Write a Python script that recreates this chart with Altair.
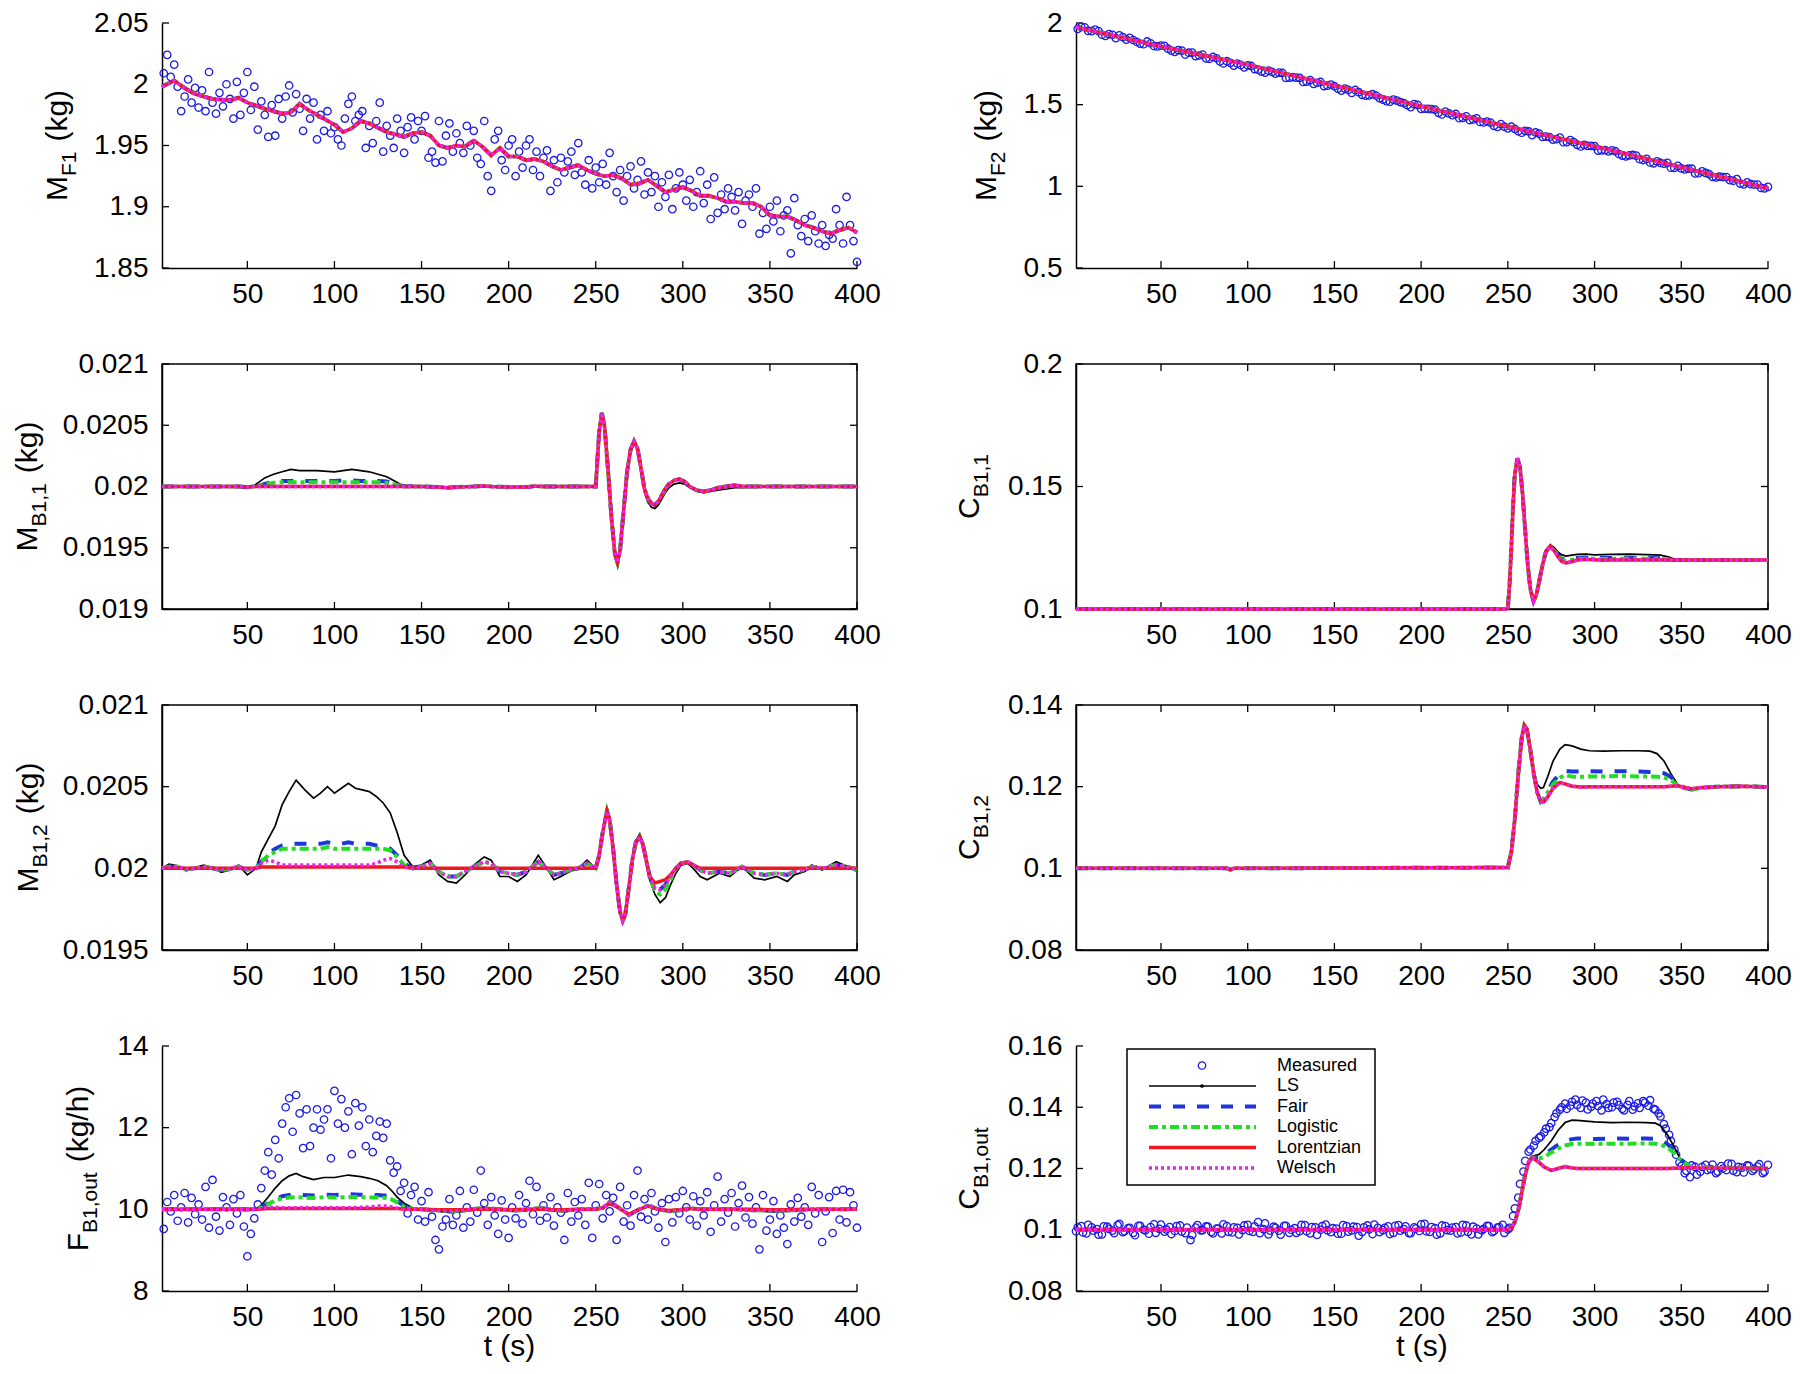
import altair as alt
import pandas as pd

FONT = "Liberation Sans"
TICK_FS = 28
TITLE_FS = 30
SUB_FS = 21
W_LEFT, W_RIGHT, H = 695, 692, 245
ROW_GAP, COL_GAP = 96, 219

X_DOMAIN = [1, 400]
X_TICKS = [50, 100, 150, 200, 250, 300, 350, 400]
SERIES = ["LS", "Fair", "Logistic", "Lorentzian", "Welsch"]
LEGEND_NAMES = ["Measured", "LS", "Fair", "Logistic", "Lorentzian", "Welsch"]
MEAS_COLOR = "#1c1ce6"
STYLE = {
    "LS": dict(color="#000000", strokeWidth=1.7),
    "Fair": dict(color="#1f35dc", strokeWidth=4, strokeDash=[12, 12]),
    "Logistic": dict(color="#22dd22", strokeWidth=4, strokeDash=[9, 4, 4, 4]),
    "Lorentzian": dict(color="#ec1820", strokeWidth=3.5),
    "Welsch": dict(color="#f020f0", strokeWidth=3.5, strokeDash=[3, 3]),
}

# ---------------- Panel 1: M_F1 ----------------
MF1_T_MEAS = list(range(2, 401, 2))
MF1_MEAS = [
    2.009, 2.024, 2.006, 2.016, 1.998, 1.978, 1.990, 2.004, 1.985, 1.997,
    1.981, 1.995, 1.978, 2.010, 1.985, 1.976, 1.993, 1.982, 2.000, 1.988,
    1.972, 2.002, 1.975, 1.993, 2.010, 1.979, 1.998, 1.963, 1.986, 1.975,
    1.957, 1.983, 1.958, 1.988, 1.972, 1.990, 1.999, 1.977, 1.992, 1.980,
    1.962, 1.988, 1.972, 1.985, 1.955, 1.975, 1.962, 1.978, 1.960, 1.965,
    1.955, 1.950, 1.972, 1.984, 1.990, 1.970, 1.975, 1.978, 1.948, 1.966,
    1.952, 1.970, 1.985, 1.945, 1.966, 1.958, 1.948, 1.972, 1.962, 1.944,
    1.965, 1.973, 1.955, 1.970, 1.962, 1.974, 1.940, 1.945, 1.936, 1.970,
    1.937, 1.958, 1.968, 1.945, 1.960, 1.952, 1.944, 1.966, 1.950, 1.962,
    1.940, 1.935, 1.970, 1.925, 1.913, 1.955, 1.962, 1.938, 1.930, 1.950,
    1.955, 1.925, 1.945, 1.932, 1.950, 1.955, 1.930, 1.945, 1.925, 1.940,
    1.946, 1.913, 1.938, 1.920, 1.940, 1.928, 1.937, 1.945, 1.926, 1.952,
    1.928, 1.918, 1.938, 1.915, 1.932, 1.920, 1.935, 1.918, 1.944, 1.925,
    1.912, 1.930, 1.905, 1.925, 1.933, 1.915, 1.922, 1.937, 1.910, 1.928,
    1.912, 1.925, 1.900, 1.920, 1.908, 1.926, 1.898, 1.915, 1.928, 1.918,
    1.905, 1.922, 1.900, 1.912, 1.929, 1.903, 1.918, 1.890, 1.924, 1.895,
    1.910, 1.898, 1.915, 1.908, 1.897, 1.912, 1.886, 1.905, 1.910, 1.900,
    1.915, 1.878, 1.895, 1.882, 1.900, 1.888, 1.905, 1.880, 1.893, 1.897,
    1.862, 1.907, 1.885, 1.876, 1.890, 1.872, 1.893, 1.880, 1.870, 1.885,
    1.868, 1.877, 1.874, 1.898, 1.885, 1.870, 1.908, 1.885, 1.872, 1.855,
]
MF1_T = [1, 8, 15, 20, 30, 40, 45, 50, 60, 70, 75, 80, 85, 95, 100, 105, 110, 115, 120, 130,
         140, 145, 150, 155, 160, 165, 170, 175, 180, 185, 190, 195, 200, 205, 210, 215, 220, 225, 230, 235,
         240, 245, 250, 255, 260, 265, 270, 275, 280, 285, 290, 295, 300, 305, 310, 315, 320, 325, 330, 335,
         340, 345, 350, 355, 360, 365, 370, 375, 380, 385, 390, 395, 400]
MF1_EST = [1.998, 2.003, 1.996, 1.992, 1.988, 1.987, 1.989, 1.985, 1.980, 1.976,
           1.977, 1.984, 1.979, 1.971, 1.967, 1.961, 1.964, 1.970, 1.968, 1.961,
           1.957, 1.960, 1.961, 1.958, 1.950, 1.948, 1.950, 1.949, 1.954, 1.949,
           1.942, 1.948, 1.941, 1.941, 1.938, 1.939, 1.937, 1.933, 1.930, 1.932,
           1.934, 1.930, 1.927, 1.925, 1.926, 1.923, 1.918, 1.919, 1.922, 1.917,
           1.912, 1.914, 1.916, 1.913, 1.909, 1.909, 1.907, 1.904, 1.904, 1.903,
           1.903, 1.900, 1.893, 1.892, 1.892, 1.889, 1.885, 1.883, 1.880, 1.878,
           1.881, 1.883, 1.879]

# ---------------- Panel 2: M_F2 ----------------
MF2_T_MEAS_A = list(range(4, 401, 4))
MF2_MEAS_A = [
    1.976, 1.952, 1.960, 1.928, 1.932, 1.907, 1.914, 1.909, 1.885, 1.870,
    1.876, 1.857, 1.860, 1.831, 1.834, 1.807, 1.819, 1.801, 1.783, 1.792,
    1.765, 1.766, 1.739, 1.743, 1.741, 1.718, 1.702, 1.709, 1.690, 1.694,
    1.665, 1.665, 1.639, 1.650, 1.634, 1.614, 1.623, 1.598, 1.598, 1.572,
    1.577, 1.555, 1.564, 1.540, 1.522, 1.531, 1.516, 1.497, 1.503, 1.474,
    1.474, 1.470, 1.440, 1.447, 1.443, 1.419, 1.406, 1.416, 1.391, 1.390,
    1.364, 1.366, 1.365, 1.337, 1.340, 1.313, 1.323, 1.304, 1.286, 1.298,
    1.271, 1.271, 1.244, 1.248, 1.246, 1.220, 1.214, 1.215, 1.188, 1.190,
    1.188, 1.161, 1.146, 1.153, 1.138, 1.114, 1.125, 1.104, 1.108, 1.080,
    1.082, 1.058, 1.059, 1.057, 1.034, 1.017, 1.024, 1.011, 0.990, 0.997,
]
MF2_T_MEAS_B = list(range(2, 401, 4))
MF2_MEAS_B = [
    1.964, 1.974, 1.950, 1.950, 1.921, 1.928, 1.924, 1.898, 1.896, 1.874,
    1.887, 1.859, 1.862, 1.843, 1.823, 1.831, 1.818, 1.797, 1.807, 1.781,
    1.784, 1.752, 1.756, 1.752, 1.728, 1.737, 1.714, 1.696, 1.701, 1.696,
    1.664, 1.669, 1.664, 1.641, 1.627, 1.639, 1.616, 1.613, 1.586, 1.591,
    1.590, 1.560, 1.557, 1.556, 1.531, 1.518, 1.525, 1.510, 1.485, 1.499,
    1.475, 1.473, 1.450, 1.458, 1.436, 1.417, 1.428, 1.410, 1.394, 1.397,
    1.370, 1.381, 1.355, 1.352, 1.328, 1.336, 1.330, 1.303, 1.302, 1.289,
    1.270, 1.283, 1.254, 1.254, 1.248, 1.219, 1.222, 1.220, 1.198, 1.183,
    1.192, 1.166, 1.168, 1.141, 1.143, 1.144, 1.113, 1.110, 1.108, 1.079,
    1.092, 1.075, 1.055, 1.057, 1.038, 1.044, 1.012, 1.013, 1.011, 0.987,
]
MF2_T = [1, 50, 100, 150, 200, 250, 300, 350, 400]
MF2_EST = [1.975, 1.856, 1.745, 1.617, 1.490, 1.366, 1.245, 1.117, 0.988]

# ---------------- Panel 3: M_B1,1 ----------------
MB11_T = [1, 45, 50, 53, 56, 60, 65, 70, 75, 80, 90, 100, 105, 110, 115, 120, 125, 130, 135, 140,
          150, 160, 165, 170, 180, 185, 190, 200, 210, 215, 220, 240, 250, 252, 253.5, 255, 257, 259, 261, 262.5,
          264, 266, 268, 270, 272, 274, 276, 278, 280, 282, 284, 286, 288, 290, 292, 295, 298, 301, 304, 308,
          312, 316, 320, 325, 330, 335, 340, 350, 400]
MB11_E = [0.02, 0.02, 0.019995, 0.02, 0.02, 0.02, 0.02, 0.02, 0.02, 0.02,
          0.02, 0.02, 0.02, 0.02, 0.02, 0.02, 0.02, 0.02, 0.02, 0.02,
          0.02, 0.019995, 0.01999, 0.019995, 0.02, 0.020005, 0.02, 0.019995, 0.019995, 0.020003,
          0.02, 0.02, 0.02, 0.02045, 0.0206, 0.0205, 0.02015, 0.01975, 0.01945, 0.01938,
          0.01948, 0.0198, 0.02012, 0.0203, 0.02037, 0.02031, 0.02015, 0.01998, 0.0199, 0.01986,
          0.01985, 0.01988, 0.01993, 0.01998, 0.02002, 0.02005, 0.02006, 0.02004, 0.02, 0.01997,
          0.01996, 0.01997, 0.01999, 0.02, 0.02001, 0.02, 0.02, 0.02, 0.02]
MB11_LS = [0.02, 0.02, 0.019985, 0.019995, 0.02003, 0.02007, 0.0201, 0.02012, 0.02014, 0.02013,
           0.02013, 0.02012, 0.02013, 0.02014, 0.02013, 0.02012, 0.0201, 0.02008, 0.02004, 0.02,
           0.02, 0.019995, 0.019985, 0.019995, 0.02, 0.020008, 0.02, 0.019993, 0.019995, 0.020006,
           0.02, 0.02, 0.02, 0.02045, 0.0206, 0.0205, 0.02015, 0.01975, 0.01945, 0.01938,
           0.01948, 0.0198, 0.02012, 0.0203, 0.02037, 0.0203, 0.02013, 0.01995, 0.01987, 0.01983,
           0.01982, 0.01985, 0.0199, 0.01995, 0.01999, 0.02002, 0.02003, 0.02002, 0.01999, 0.01996,
           0.01995, 0.01996, 0.01997, 0.01998, 0.01999, 0.01999, 0.02, 0.02, 0.02]
MB11_FAIR_MID = [0.020005, 0.02002, 0.02004, 0.020045, 0.020045, 0.020045, 0.020045, 0.020045,
                 0.02005, 0.02005, 0.020045, 0.020045, 0.020045, 0.02004, 0.02002, 0.020002]
MB11_LOGI_MID = [0.020003, 0.020015, 0.02003, 0.020035, 0.020035, 0.020035, 0.020035, 0.020035,
                 0.020035, 0.020035, 0.020035, 0.020035, 0.020035, 0.02003, 0.020015, 0.02]
MB11_FAIR = MB11_E[:4] + MB11_FAIR_MID + MB11_E[20:]
MB11_LOGI = MB11_E[:4] + MB11_LOGI_MID + MB11_E[20:]

# ---------------- Panel 4: C_B1,1 ----------------
CB11_T = [1, 249, 250, 251, 252, 253, 254, 255.5, 257, 258.5, 260, 261.5, 263, 264.8, 266.5, 268, 270, 272,
          274.5, 277, 279, 281, 283.5, 286, 290, 295, 300, 305, 310, 320, 330, 338, 343, 346, 350, 400]
CB11_E = [0.1, 0.1, 0.1005, 0.110, 0.125, 0.142, 0.155, 0.1615, 0.158, 0.147,
          0.132, 0.118, 0.108, 0.1032, 0.106, 0.111, 0.118, 0.1235, 0.1256, 0.1235,
          0.1212, 0.1195, 0.1188, 0.1192, 0.1200, 0.1203, 0.1201, 0.1199, 0.1200, 0.1200,
          0.12, 0.12, 0.12, 0.12, 0.12, 0.12]
CB11_LS = CB11_E[:17] + [0.1240, 0.1263, 0.1250, 0.1232, 0.1222, 0.1216, 0.1219, 0.1223, 0.1224, 0.1221,
                         0.1222, 0.1223, 0.1224, 0.1222, 0.1220, 0.1212, 0.1203, 0.1200, 0.1200]
CB11_FAIR = CB11_E[:19] + [0.1240, 0.1220, 0.1205, 0.1200, 0.1203, 0.1208, 0.1209, 0.1208, 0.1208,
                           0.1208, 0.1209, 0.1208, 0.1207, 0.1203, 0.1200, 0.1200, 0.1200]
CB11_LOGI = CB11_E[:19] + [0.1238, 0.1216, 0.1200, 0.1195, 0.1199, 0.1204, 0.1205, 0.1205, 0.1204,
                           0.1205, 0.1205, 0.1205, 0.1204, 0.1202, 0.1200, 0.1200, 0.1200]

# ---------------- Panel 5: M_B1,2 ----------------
MB12_T = [1, 5, 10, 15, 20, 25, 30, 35, 40, 45, 50, 55, 58, 62, 66, 70, 74, 78, 83, 88,
          92, 96, 100, 104, 108, 112, 116, 120, 124, 128, 132, 136, 140, 145, 150, 155, 160, 165, 170, 175,
          180, 186, 190, 195, 200, 205, 210, 217, 222, 226, 230, 235, 240, 245, 250, 252, 254, 256.5, 258, 260,
          262, 264, 265.5, 267, 269, 271, 273, 275.3, 277, 279, 281, 284, 287, 290, 293, 296, 299, 302.7, 306, 310,
          314, 321, 327, 334, 341, 347, 354, 360, 364, 370, 374, 380, 388, 395, 400]
MB12_LS = [0.02, 0.020025, 0.020015, 0.019985, 0.020005, 0.02002, 0.020005, 0.019975, 0.01999, 0.02002,
           0.01996, 0.02, 0.0201, 0.02018, 0.02026, 0.02039, 0.02047, 0.02054, 0.02048, 0.02043,
           0.02046, 0.0205, 0.02046, 0.02049, 0.02052, 0.02049, 0.02048, 0.02047, 0.02044, 0.0204,
           0.02034, 0.02022, 0.02008, 0.02001, 0.02002, 0.02005, 0.01996, 0.01992, 0.01991, 0.01996,
           0.02002, 0.02007, 0.02005, 0.01995, 0.01995, 0.01992, 0.01996, 0.02008, 0.02, 0.01993,
           0.01995, 0.01998, 0.02, 0.02005, 0.02, 0.02009, 0.02023, 0.02037, 0.02031, 0.02012,
           0.0199, 0.01973, 0.01967, 0.01971, 0.01988, 0.02006, 0.02017, 0.02021, 0.02016, 0.02004,
           0.01993, 0.01984, 0.01979, 0.01982, 0.0199, 0.01997, 0.02002, 0.02003, 0.02, 0.01995,
           0.01993, 0.01997, 0.01995, 0.02001, 0.01994, 0.01993, 0.01995, 0.01992, 0.01996, 0.01998,
           0.02002, 0.01999, 0.02004, 0.02001, 0.01998]
MB12_FAIR = [0.02, 0.02001, 0.02001, 0.019995, 0.02, 0.02001, 0.02, 0.01999, 0.019995, 0.02001,
             0.01999, 0.02, 0.02004, 0.02009, 0.02012, 0.02014, 0.02015, 0.02015, 0.02015, 0.02015,
             0.02015, 0.02016, 0.02015, 0.02015, 0.02016, 0.02015, 0.02015, 0.02015, 0.02014, 0.02014,
             0.02012, 0.02008, 0.02003, 0.02, 0.02001, 0.02003, 0.01998, 0.01995, 0.01995, 0.01998,
             0.02001, 0.02004, 0.02003, 0.01998, 0.01997, 0.01996, 0.01998, 0.02004, 0.02, 0.01996,
             0.01997, 0.01999, 0.02, 0.02003, 0.02, 0.02008, 0.02022, 0.02035, 0.0203, 0.02012,
             0.0199, 0.01973, 0.01968, 0.01972, 0.01988, 0.02005, 0.02016, 0.02019, 0.02015, 0.02005,
             0.01995, 0.01988, 0.01987, 0.0199, 0.01995, 0.02, 0.02003, 0.02004, 0.02002, 0.01999,
             0.01997, 0.01998, 0.01997, 0.02001, 0.01997, 0.01996, 0.01997, 0.01996, 0.01998, 0.01999,
             0.02001, 0.02, 0.02002, 0.02001, 0.01999]
MB12_LOGI_PLATEAU = [0.02004, 0.02008, 0.0201, 0.02012, 0.02012, 0.02012, 0.02012, 0.02012, 0.02012, 0.02013,
                     0.02012, 0.02012, 0.02012, 0.02012, 0.02012, 0.02012, 0.02012, 0.02012, 0.02011, 0.02007,
                     0.02002]
MB12_LOGI_DIP = [0.01986, 0.01984, 0.01987, 0.01993]
MB12_LOGI = MB12_FAIR[:12] + MB12_LOGI_PLATEAU + MB12_FAIR[33:71] + MB12_LOGI_DIP + MB12_FAIR[75:]
MB12_WEL_PLATEAU = [0.02003, 0.02005, 0.02004, 0.02002, 0.02002, 0.02002, 0.02002, 0.02002, 0.02002, 0.02002,
                    0.02002, 0.02002, 0.02002, 0.02002, 0.02002, 0.02002, 0.02003, 0.02005, 0.02006, 0.02004,
                    0.02001]
MB12_WEL = MB12_FAIR[:12] + MB12_WEL_PLATEAU + MB12_FAIR[33:]
MB12_LOR_DIP = [0.01991, 0.01992, 0.01993, 0.01996, 0.02, 0.02003, 0.02004, 0.02002, 0.02]
MB12_LOR = [0.02] * 12 + [0.020008] * 21 + [0.02] * 22 + MB12_FAIR[55:71] + MB12_LOR_DIP + [0.02] * 15

# ---------------- Panel 6: C_B1,2 ----------------
CB12_T = [1, 88, 90, 92, 250, 252, 254, 256, 258, 259.5, 261, 263, 265, 267, 269, 270.5, 273, 276, 280, 283,
          287, 292, 297, 305, 315, 325, 332, 336, 340, 344, 348, 352, 356, 362, 370, 385, 400]
CB12_E = [0.1, 0.1, 0.0997, 0.1, 0.1002, 0.104, 0.112, 0.123, 0.132, 0.135,
          0.134, 0.129, 0.123, 0.1185, 0.1163, 0.1162, 0.1175, 0.1196, 0.1210, 0.1207,
          0.1201, 0.1199, 0.1200, 0.1200, 0.1200, 0.1200, 0.1200, 0.1200, 0.1200, 0.1201,
          0.1202, 0.1198, 0.1195, 0.1198, 0.1200, 0.1201, 0.1199]
CB12_LS = [0.1, 0.1, 0.0996, 0.1, 0.1002, 0.104, 0.112, 0.123, 0.132, 0.1352,
           0.1342, 0.1295, 0.1240, 0.1205, 0.1196, 0.1198, 0.1225, 0.1262, 0.1292, 0.1303,
           0.1300, 0.1292, 0.1288, 0.1287, 0.1288, 0.1288, 0.1287, 0.1281, 0.1263, 0.1232,
           0.1205, 0.1195, 0.1192, 0.1197, 0.1200, 0.1201, 0.1199]
CB12_FAIR = CB12_E[:15] + [0.1168, 0.1190, 0.1212, 0.1232, 0.1239, 0.1237, 0.1237, 0.1238, 0.1237, 0.1238,
                           0.1237, 0.1236, 0.1236, 0.1233, 0.1224, 0.1206, 0.1197, 0.1193, 0.1197, 0.1200,
                           0.1201, 0.1199]
CB12_LOGI = CB12_E[:15] + [0.1168, 0.1186, 0.1205, 0.1222, 0.1228, 0.1225, 0.1224, 0.1225, 0.1225, 0.1226,
                           0.1225, 0.1225, 0.1224, 0.1223, 0.1216, 0.1203, 0.1196, 0.1193, 0.1197, 0.1200,
                           0.1201, 0.1199]

# ---------------- Panel 7: F_B1,out ----------------
FB1_T_MEAS = list(range(2, 401, 2))
FB1_MEAS = [
    9.52, 10.18, 9.95, 10.35, 9.72, 10.05, 10.40, 9.68, 10.28, 9.88,
    10.12, 9.75, 10.55, 9.55, 10.72, 9.82, 9.48, 10.30, 10.05, 9.62,
    10.25, 9.90, 10.35, 9.58, 8.85, 9.40, 9.78, 10.12, 10.52, 10.95,
    11.40, 10.85, 11.70, 11.25, 12.10, 12.50, 12.72, 11.90, 12.80, 12.35,
    11.50, 12.45, 11.55, 12.00, 12.45, 11.95, 12.20, 12.45, 11.25, 12.90,
    12.10, 12.70, 12.00, 12.40, 11.35, 12.60, 12.05, 12.50, 11.55, 12.20,
    11.40, 11.80, 12.15, 11.75, 12.10, 11.20, 10.90, 11.05, 10.45, 10.65,
    9.90, 10.35, 10.55, 9.75, 10.20, 9.70, 10.42, 9.82, 9.25, 9.02,
    9.58, 9.75, 10.25, 9.62, 9.85, 10.45, 9.55, 10.05, 9.70, 10.48,
    9.92, 10.95, 10.15, 9.62, 10.30, 9.85, 9.40, 10.22, 9.75, 9.30,
    10.05, 9.78, 10.35, 9.65, 10.15, 10.70, 9.88, 10.55, 9.72, 10.10,
    9.80, 10.30, 9.60, 10.05, 9.92, 9.25, 10.40, 9.70, 10.18, 9.85,
    10.25, 9.62, 10.65, 9.30, 10.10, 10.62, 9.78, 10.35, 9.95, 10.28,
    9.25, 10.55, 9.70, 10.10, 9.60, 10.35, 10.95, 9.82, 10.25, 9.75,
    10.40, 9.95, 9.55, 10.15, 9.20, 10.25, 9.68, 10.30, 9.90, 10.45,
    10.05, 9.75, 10.32, 9.60, 10.20, 9.85, 10.42, 9.45, 10.10, 10.80,
    9.70, 10.25, 9.92, 10.40, 9.58, 10.15, 10.58, 9.80, 10.30, 9.65,
    10.05, 9.02, 10.35, 9.48, 9.75, 10.20, 9.40, 9.85, 9.55, 9.15,
    10.12, 9.70, 10.28, 9.82, 10.05, 9.62, 10.55, 9.90, 10.35, 9.20,
    9.95, 10.30, 9.42, 10.45, 9.75, 10.48, 9.68, 10.42, 10.10, 9.55,
]
FB1_T = [1, 20, 40, 50, 55, 58, 62, 66, 70, 74, 78, 82, 88, 94, 100, 108, 115, 120, 125, 130,
         133, 136, 140, 145, 150, 160, 167, 175, 185, 195, 202, 210, 218, 225, 232, 240, 250, 254, 258, 263,
         269, 275, 280, 286, 292, 298, 304, 310, 320, 330, 340, 350, 360, 370, 380, 390, 400]
FB1_LS = [10.00, 10.00, 10.00, 9.97, 10.00, 10.10, 10.30, 10.52, 10.70, 10.82,
          10.88, 10.80, 10.73, 10.78, 10.78, 10.84, 10.80, 10.76, 10.70, 10.58,
          10.45, 10.30, 10.15, 10.03, 10.00, 9.95, 9.92, 9.95, 10.05, 10.00,
          9.95, 9.97, 10.06, 9.96, 9.94, 10.00, 10.02, 10.05, 10.18, 10.05,
          9.86, 10.00, 10.10, 10.00, 9.93, 9.97, 10.03, 10.00, 10.00, 10.00,
          9.97, 9.94, 9.95, 9.98, 10.00, 10.00, 10.02]
FB1_FAIR = [10.00, 10.00, 10.00, 10.00, 10.00, 10.05, 10.15, 10.25, 10.32, 10.35,
            10.36, 10.35, 10.34, 10.36, 10.35, 10.37, 10.36, 10.35, 10.35, 10.33,
            10.28, 10.20, 10.08, 10.01, 10.00, 9.97, 9.96, 9.98, 10.03, 10.00,
            9.97, 9.99, 10.04, 9.98, 9.97, 10.00, 10.01, 10.04, 10.18, 10.05,
            9.86, 10.00, 10.10, 10.00, 9.95, 9.98, 10.03, 10.00, 10.00, 10.00,
            9.98, 9.97, 9.97, 9.99, 10.00, 10.00, 10.01]
FB1_LOGI = FB1_FAIR[:5] + [10.04, 10.13, 10.22, 10.27, 10.29, 10.30, 10.29, 10.28, 10.30, 10.29,
                           10.30, 10.30, 10.29, 10.29, 10.28, 10.24, 10.17, 10.06, 10.01] + FB1_FAIR[24:]
FB1_WEL = FB1_FAIR[:5] + [10.02, 10.06, 10.05, 10.04, 10.04, 10.04, 10.04, 10.04, 10.04, 10.04,
                          10.04, 10.05, 10.06, 10.08, 10.08, 10.06, 10.03, 10.00, 10.00] + FB1_FAIR[24:]
FB1_LOR = FB1_FAIR[:5] + [10.01, 10.02, 10.02, 10.02, 10.02, 10.02, 10.02, 10.02, 10.02, 10.02,
                          10.02, 10.02, 10.02, 10.02, 10.02, 10.02, 10.02, 10.01, 10.00] + \
          [10.00, 9.99, 9.99, 9.99, 10.01, 10.00, 9.99, 10.00, 10.01, 9.99,
           9.99, 10.00, 10.00, 10.03, 10.15, 10.04, 9.88, 10.00, 10.08, 10.00,
           9.97, 9.99, 10.02, 10.00, 10.00, 10.00, 10.00, 9.99, 9.99, 10.00,
           10.00, 10.00, 10.00]

# ---------------- Panel 8: C_B1,out ----------------
CB1O_T_MEAS_A = list(range(1, 401, 3))
CB1O_MEAS_A = [
    0.0995, 0.1012, 0.0988, 0.1008, 0.1002, 0.0985, 0.1010, 0.0997, 0.1015, 0.0992,
    0.1005, 0.0990, 0.1013, 0.1000, 0.0987, 0.1018, 0.1003, 0.0994, 0.1009, 0.0996,
    0.1014, 0.0989, 0.0966, 0.1007, 0.0998, 0.1011, 0.0993, 0.1004, 0.0988, 0.1012,
    0.0991, 0.1006, 0.0999, 0.1016, 0.0993, 0.1025, 0.1002, 0.0985, 0.1010, 0.0997,
    0.1013, 0.0990, 0.1005, 0.0995, 0.1015, 0.0988, 0.1008, 0.1000, 0.1017, 0.0992,
    0.1004, 0.0987, 0.1012, 0.0998, 0.1009, 0.0993, 0.1014, 0.0986, 0.1006, 0.0999,
    0.1011, 0.0990, 0.1015, 0.1002, 0.0989, 0.1008, 0.0996, 0.1019, 0.0993, 0.1005,
    0.0988, 0.1012, 0.0997, 0.1009, 0.0991, 0.1014, 0.0985, 0.1004, 0.0998, 0.1013,
    0.0992, 0.1007, 0.1016, 0.1001,
    0.1045, 0.1105, 0.1190, 0.1255, 0.1275, 0.1300, 0.1318, 0.1335, 0.1368, 0.1392,
    0.1412, 0.1405, 0.1425, 0.1398, 0.1415, 0.1402, 0.1420, 0.1390, 0.1410, 0.1400,
    0.1418, 0.1395, 0.1408, 0.1392, 0.1413, 0.1420, 0.1405, 0.1395, 0.1380, 0.1345,
    0.1310, 0.1262, 0.1220, 0.1185, 0.1172, 0.1205, 0.1190, 0.1212, 0.1198, 0.1185,
    0.1208, 0.1195, 0.1215, 0.1188, 0.1203, 0.1210, 0.1192, 0.1206, 0.1185, 0.1212,
]
CB1O_T_MEAS_B = list(range(2, 400, 3))
CB1O_MEAS_B = [
    0.1008, 0.0991, 0.1016, 0.0997, 0.0984, 0.1011, 0.1003, 0.0989, 0.1019, 0.0995,
    0.1006, 0.0982, 0.1013, 0.0998, 0.1009, 0.0990, 0.1017, 0.1001, 0.0986, 0.1012,
    0.0994, 0.1007, 0.0983, 0.1015, 0.0999, 0.1010, 0.0988, 0.1004, 0.1018, 0.0993,
    0.1008, 0.0985, 0.1014, 0.0996, 0.1011, 0.0989, 0.1021, 0.0997, 0.1006, 0.0984,
    0.1013, 0.1000, 0.0990, 0.1016, 0.0995, 0.1009, 0.0983, 0.1012, 0.0998, 0.1005,
    0.0987, 0.1015, 0.0994, 0.1010, 0.0981, 0.1008, 0.1001, 0.1017, 0.0992, 0.1006,
    0.0986, 0.1013, 0.0997, 0.1011, 0.0989, 0.1004, 0.1018, 0.0995, 0.1009, 0.0984,
    0.1014, 0.0999, 0.1007, 0.0988, 0.1016, 0.0993, 0.1010, 0.0985, 0.1003, 0.1012,
    0.0996, 0.1009, 0.0990, 0.1006,
    0.1070, 0.1150, 0.1225, 0.1262, 0.1290, 0.1305, 0.1330, 0.1348, 0.1380, 0.1400,
    0.1395, 0.1418, 0.1408, 0.1422, 0.1393, 0.1412, 0.1404, 0.1425, 0.1398, 0.1415,
    0.1407, 0.1390, 0.1420, 0.1403, 0.1398, 0.1415, 0.1423, 0.1392, 0.1370, 0.1330,
    0.1290, 0.1245, 0.1208, 0.1192, 0.1210, 0.1180, 0.1205, 0.1195, 0.1213, 0.1190,
    0.1200, 0.1216, 0.1193, 0.1205, 0.1187, 0.1209, 0.1198, 0.1214, 0.1190,
]
CB1O_T = [1, 250, 252, 254, 256, 258, 260, 262, 264, 268, 271, 275, 279, 283, 287, 290, 300, 310, 320, 330,
          335, 338, 342, 346, 350, 355, 360, 380, 400]
CB1O_E = [0.1, 0.1, 0.1005, 0.1025, 0.1063, 0.1120, 0.1180, 0.1220, 0.1236, 0.1220,
          0.1205, 0.1194, 0.1200, 0.1206, 0.1202, 0.1200, 0.1200, 0.1200, 0.1200, 0.1200,
          0.1200, 0.1200, 0.1200, 0.1201, 0.1202, 0.1203, 0.1202, 0.1201, 0.1200]
CB1O_LS = [0.1, 0.1, 0.1005, 0.1025, 0.1063, 0.1120, 0.1180, 0.1222, 0.1240, 0.1246,
           0.1262, 0.1290, 0.1325, 0.1350, 0.1358, 0.1357, 0.1352, 0.1350, 0.1351, 0.1350,
           0.1348, 0.1340, 0.1310, 0.1270, 0.1225, 0.1205, 0.1200, 0.1201, 0.1200]
CB1O_FAIR = CB1O_E[:9] + [0.1237, 0.1245, 0.1262, 0.1278, 0.1290, 0.1296, 0.1298, 0.1296, 0.1298, 0.1297,
                          0.1298, 0.1297, 0.1293, 0.1280, 0.1258, 0.1228, 0.1207, 0.1203, 0.1201, 0.1200]
CB1O_LOGI = CB1O_E[:9] + [0.1232, 0.1238, 0.1252, 0.1265, 0.1275, 0.1280, 0.1281, 0.1280, 0.1281, 0.1281,
                          0.1282, 0.1281, 0.1278, 0.1268, 0.1250, 0.1225, 0.1207, 0.1203, 0.1201, 0.1200]

# ---------------- helpers ----------------
CHAR_W = {"M": .833, "C": .722, "F": .611, "B": .667, "1": .556, "2": .556, ",": .278, "o": .556,
          "u": .556, "t": .278, "(": .333, ")": .333, "k": .5, "g": .556, "/": .278, "h": .556, " ": .278}


def tw(s, fs):
    return sum(CHAR_W.get(c, 0.556) for c in s) * fs


ONE = pd.DataFrame({"k": [0]})


def make_panel(width, ydom, yticks, lines, meas, title, title_dx, boxed,
               xlabel=False, legend=False, anchor=False):
    xs = alt.Scale(domain=X_DOMAIN, nice=False, zero=False)
    ys = alt.Scale(domain=ydom, nice=False, zero=False)
    common = dict(labelFont=FONT, labelFontSize=TICK_FS, labelColor="black", labelFlush=False,
                  ticks=False, tickSize=0, grid=False, domainColor="black", domainWidth=1.5,
                  labelOverlap=False, title=None)
    xaxis = alt.Axis(values=X_TICKS, labelPadding=12, **common)
    yaxis = alt.Axis(values=yticks, format="~g", labelPadding=14, **common)

    def X():
        return alt.X("t:Q", scale=xs, axis=xaxis, title=None)

    def Y():
        return alt.Y("y:Q", scale=ys, axis=yaxis, title=None)

    xt = pd.DataFrame({"t": X_TICKS})
    yt = pd.DataFrame({"y": yticks})
    layers = []
    if anchor:
        # invisible marker fixing the left/top edge of the whole figure
        layers.append(alt.Chart(ONE).mark_rule(strokeOpacity=0).encode(
            x=alt.value(-153), x2=alt.value(-152), y=alt.value(-13)))
    layers.append(alt.Chart(xt).mark_rule(color="black", strokeWidth=1.3).encode(
        x=X(), y=alt.value(H), y2=alt.value(H - 7)))
    layers.append(alt.Chart(yt).mark_rule(color="black", strokeWidth=1.3).encode(
        y=Y(), x=alt.value(0), x2=alt.value(7)))
    if boxed:
        layers.append(alt.Chart(ONE).mark_rect(fillOpacity=0, stroke="black", strokeWidth=1.5).encode(
            x=alt.value(0), x2=alt.value(width), y=alt.value(0), y2=alt.value(H)))
        layers.append(alt.Chart(xt).mark_rule(color="black", strokeWidth=1.3).encode(
            x=X(), y=alt.value(0), y2=alt.value(7)))
        layers.append(alt.Chart(yt).mark_rule(color="black", strokeWidth=1.3).encode(
            y=Y(), x=alt.value(width - 7), x2=alt.value(width)))
    for mt, mv in meas:
        layers.append(alt.Chart(pd.DataFrame({"t": mt, "y": mv})).mark_point(
            shape="circle", filled=False, size=55, strokeWidth=1.3, color=MEAS_COLOR, opacity=1).encode(
            x=X(), y=Y()))
    for name in SERIES:
        tt, vv = lines[name]
        layers.append(alt.Chart(pd.DataFrame({"t": tt, "y": vv})).mark_line(**STYLE[name]).encode(
            x=X(), y=Y()))
    # y title with subscript
    main, sub, unit = title
    gap = 10
    total = tw(main, TITLE_FS) + tw(sub, SUB_FS) + ((gap + tw(unit, TITLE_FS)) if unit else 0)
    y_main = H / 2 + total / 2
    y_sub = y_main - tw(main, TITLE_FS)
    y_unit = y_sub - tw(sub, SUB_FS) - gap
    txt = dict(angle=270, align="left", baseline="alphabetic", font=FONT, color="black")
    layers.append(alt.Chart(ONE).mark_text(text=main, fontSize=TITLE_FS, **txt).encode(
        x=alt.value(title_dx), y=alt.value(y_main)))
    layers.append(alt.Chart(ONE).mark_text(text=sub, fontSize=SUB_FS, **txt).encode(
        x=alt.value(title_dx + 9), y=alt.value(y_sub)))
    if unit:
        layers.append(alt.Chart(ONE).mark_text(text=unit, fontSize=TITLE_FS, **txt).encode(
            x=alt.value(title_dx), y=alt.value(y_unit)))
    if xlabel:
        layers.append(alt.Chart(ONE).mark_text(text="t (s)", fontSize=TITLE_FS, font=FONT, color="black",
                                               align="center", baseline="alphabetic").encode(
            x=alt.value(width / 2), y=alt.value(H + 65)))
    if legend:
        layers.append(alt.Chart(ONE).mark_rect(fill="white", stroke="black", strokeWidth=1.5).encode(
            x=alt.value(51), x2=alt.value(299), y=alt.value(3), y2=alt.value(139)))
        ly = [19.5, 40, 60.5, 81, 101.5, 122]
        lx0, lx1, lxm, ltx = 73, 180, 126, 201
        for i, nm in enumerate(LEGEND_NAMES):
            if nm == "Measured":
                layers.append(alt.Chart(ONE).mark_point(shape="circle", filled=False, size=55, strokeWidth=1.3,
                                                        color=MEAS_COLOR, opacity=1).encode(
                    x=alt.value(lxm), y=alt.value(ly[i])))
            else:
                layers.append(alt.Chart(ONE).mark_rule(**STYLE[nm]).encode(
                    x=alt.value(lx0), x2=alt.value(lx1), y=alt.value(ly[i])))
                if nm == "LS":
                    layers.append(alt.Chart(ONE).mark_point(shape="circle", filled=True, size=14,
                                                            color="black", opacity=1).encode(
                        x=alt.value(lxm), y=alt.value(ly[i])))
            layers.append(alt.Chart(ONE).mark_text(text=nm, fontSize=18, font=FONT, color="black",
                                                   align="left", baseline="middle").encode(
                x=alt.value(ltx), y=alt.value(ly[i])))
    return alt.layer(*layers).properties(width=width, height=H)


def same(t, v):
    return {s: (t, v) for s in SERIES}


p1 = make_panel(W_LEFT, [1.85, 2.05], [1.85, 1.9, 1.95, 2, 2.05], same(MF1_T, MF1_EST),
                [(MF1_T_MEAS, MF1_MEAS)], ("M", "F1", "(kg)"), -95, False, anchor=True)
p2 = make_panel(W_RIGHT, [0.5, 2], [0.5, 1, 1.5, 2], same(MF2_T, MF2_EST),
                [(MF2_T_MEAS_A, MF2_MEAS_A), (MF2_T_MEAS_B, MF2_MEAS_B)], ("M", "F2", "(kg)"), -80, False)
p3 = make_panel(W_LEFT, [0.019, 0.021], [0.019, 0.0195, 0.02, 0.0205, 0.021],
                {"LS": (MB11_T, MB11_LS), "Fair": (MB11_T, MB11_FAIR), "Logistic": (MB11_T, MB11_LOGI),
                 "Lorentzian": (MB11_T, MB11_E), "Welsch": (MB11_T, MB11_E)},
                [], ("M", "B1,1", "(kg)"), -125, True)
p4 = make_panel(W_RIGHT, [0.1, 0.2], [0.1, 0.15, 0.2],
                {"LS": (CB11_T, CB11_LS), "Fair": (CB11_T, CB11_FAIR), "Logistic": (CB11_T, CB11_LOGI),
                 "Lorentzian": (CB11_T, CB11_E), "Welsch": (CB11_T, CB11_E)},
                [], ("C", "B1,1", ""), -97, True)
p5 = make_panel(W_LEFT, [0.0195, 0.021], [0.0195, 0.02, 0.0205, 0.021],
                {"LS": (MB12_T, MB12_LS), "Fair": (MB12_T, MB12_FAIR), "Logistic": (MB12_T, MB12_LOGI),
                 "Lorentzian": (MB12_T, MB12_LOR), "Welsch": (MB12_T, MB12_WEL)},
                [], ("M", "B1,2", "(kg)"), -124, True)
p6 = make_panel(W_RIGHT, [0.08, 0.14], [0.08, 0.1, 0.12, 0.14],
                {"LS": (CB12_T, CB12_LS), "Fair": (CB12_T, CB12_FAIR), "Logistic": (CB12_T, CB12_LOGI),
                 "Lorentzian": (CB12_T, CB12_E), "Welsch": (CB12_T, CB12_E)},
                [], ("C", "B1,2", ""), -97, True)
p7 = make_panel(W_LEFT, [8, 14], [8, 10, 12, 14],
                {"LS": (FB1_T, FB1_LS), "Fair": (FB1_T, FB1_FAIR), "Logistic": (FB1_T, FB1_LOGI),
                 "Lorentzian": (FB1_T, FB1_LOR), "Welsch": (FB1_T, FB1_WEL)},
                [(FB1_T_MEAS, FB1_MEAS)], ("F", "B1,out", "(kg/h)"), -74, False, xlabel=True)
p8 = make_panel(W_RIGHT, [0.08, 0.16], [0.08, 0.1, 0.12, 0.14, 0.16],
                {"LS": (CB1O_T, CB1O_LS), "Fair": (CB1O_T, CB1O_FAIR), "Logistic": (CB1O_T, CB1O_LOGI),
                 "Lorentzian": (CB1O_T, CB1O_E), "Welsch": (CB1O_T, CB1O_E)},
                [(CB1O_T_MEAS_A, CB1O_MEAS_A), (CB1O_T_MEAS_B, CB1O_MEAS_B)], ("C", "B1,out", ""), -97, False,
                xlabel=True, legend=True)

chart = alt.concat(p1, p2, p3, p4, p5, p6, p7, p8, columns=2,
                   spacing={"row": ROW_GAP, "column": COL_GAP}, bounds="flush").properties(
    padding=0).configure_view(stroke="transparent")

chart.save("out.html", embed_options={"renderer": "svg", "actions": False})
